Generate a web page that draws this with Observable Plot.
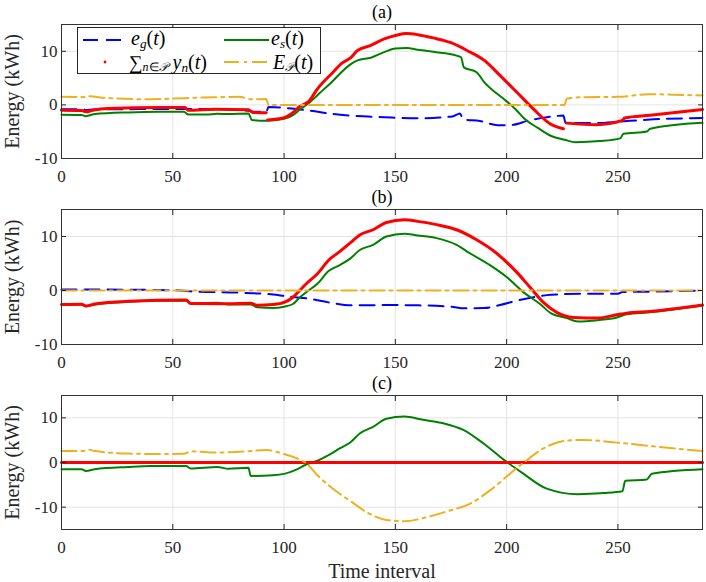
<!DOCTYPE html>
<html><head><meta charset="utf-8">
<script src="https://cdn.jsdelivr.net/npm/d3@7"></script>
<script src="https://cdn.jsdelivr.net/npm/@observablehq/plot@0.6"></script>
<style>
body{margin:0;background:#fff;font-family:"Liberation Serif","Times New Roman",serif;}
#wrap{position:relative;width:706px;}
#wrap svg{display:block;}
.legend{position:absolute;left:77px;top:27px;width:242px;height:45px;border:1px solid #262626;background:#fff;font-size:20px;color:#000;}
.it{position:absolute;height:19px;line-height:19px;white-space:nowrap;}
.sb{font-size:66%;position:relative;top:0.2em;line-height:1;}
i{font-style:italic;}
</style>
</head><body>
<div id="wrap"></div>
<script>
// ---- data (time interval, energy kWh) ----
const xTicks = [0, 50, 100, 150, 200, 250];
const yTicks = [-10, 0, 10];

// panel (a)
const aEg = [[0,-0.8],[10,-0.85],[11,-1.0],[14,-0.85],[30,-0.8],[50,-0.75],[70,-0.8],[84,-1.1],[87,-1.3],[92,-1.3],[93,-0.4],[100,-0.55],[106,-0.8],[112,-1.1],[122,-1.7],[130,-2.0],[145,-2.3],[160,-2.5],[170,-2.35],[176,-2.1],[179,-1.6],[180.5,-2.7],[188,-3.0],[196,-3.8],[202,-3.75],[210,-2.9],[218,-2.3],[225.5,-2.0],[226.5,-3.4],[240,-3.4],[251,-3.1],[266,-2.7],[288,-2.45]];
const aEs = [[0,-1.85],[9,-1.9],[11,-2.1],[15,-1.7],[30,-1.4],[44,-1.3],[55,-1.3],[57,-1.8],[65,-1.8],[70,-1.65],[75,-1.7],[84,-1.6],[85.5,-2.8],[92,-2.95],[100,-2.6],[104,-1.9],[107,-0.9],[111,0.3],[116,2.2],[122,4.5],[126,6.2],[130,7.6],[133,8.3],[139,8.8],[145,9.85],[150,10.5],[155,10.6],[160,10.3],[167,9.9],[177.5,9.2],[179.5,8.9],[180.8,7.0],[186.5,6.1],[190,4.2],[195,2.3],[199,1.0],[204,-0.8],[208,-2.6],[214,-4.3],[220,-5.8],[226,-6.5],[231,-6.95],[242,-6.75],[251,-6.25],[252.5,-5.4],[263,-4.95],[264.5,-4.45],[288,-3.35]];
const aSum = [[0,-1.0],[9,-1.05],[11,-1.3],[14,-1.0],[21,-0.65],[44,-0.5],[55.5,-0.5],[57,-1.0],[69,-0.8],[84,-0.9],[86,-1.4],[92,-1.45],[92.3,null],[92.6,-2.8],[100,-2.4],[103.5,-1.6],[107,-0.3],[111,0.6],[115,3.0],[122,6.1],[126,7.8],[130,8.8],[133,10.15],[139,11.1],[145,12.3],[150.5,13.0],[155,13.3],[160,13.1],[167,12.5],[175,11.6],[182,10.2],[190,8.3],[197,5.5],[204.5,2.4],[212,-0.75],[219.5,-3.5],[225.5,-4.45],[226.2,null],[227,-3.4],[240.5,-3.7],[252,-2.9],[253,-2.45],[264.5,-1.95],[288,-0.85]];
const aEP = [[0,1.5],[10,1.45],[12,1.6],[20,1.3],[40,1.05],[55,1.25],[70,1.45],[80,1.5],[85,1.05],[92,1.1],[93,0],[226,0],[227,1.15],[235,1.45],[250,1.5],[264,2.0],[275,1.9],[288,1.75]];

// panel (b)
const bEg = [[0,0.2],[30,0.15],[50,0.05],[60,-0.2],[80,-0.4],[95,-0.75],[100,-1.0],[105,-1.25],[110,-1.45],[120,-2.2],[130,-2.75],[145,-2.7],[160,-2.75],[175,-3.0],[181,-3.3],[190,-3.25],[197,-2.7],[204.5,-1.9],[212,-1.25],[220,-0.8],[235,-0.6],[250,-0.6],[252,-0.3],[265,-0.2],[288,0]];
const bEs = [[0,-2.6],[9,-2.6],[11,-2.9],[15,-2.6],[30,-2.1],[40,-1.9],[56,-1.9],[58,-2.4],[70,-2.25],[75,-2.6],[85,-2.6],[88,-3.1],[95,-3.25],[100,-3.0],[104,-2.5],[107,-1.3],[110,-0.3],[115,1.25],[120,3.6],[125,4.7],[130,6.0],[134,7.5],[140,8.45],[146,10.0],[154,10.5],[160,10.2],[168.5,9.7],[177.5,8.45],[183.5,6.9],[192.5,4.7],[200,2.5],[207.5,-0.3],[215,-2.5],[220,-4.25],[227,-5.1],[232,-5.75],[241,-5.5],[249.5,-5.0],[254,-4.4],[264.5,-4.05],[288,-2.8]];
const bSum = [[0,-2.6],[9,-2.55],[11,-2.85],[15,-2.5],[30,-2.0],[56,-1.75],[58,-2.4],[75,-2.45],[85,-2.35],[88,-2.75],[95,-2.6],[100,-2.2],[104,-1.25],[107,0],[110,1.25],[115,3.1],[120,5.6],[125,7.2],[130,8.9],[134,10.3],[140,11.25],[146,12.6],[154,13.1],[160,12.8],[168.5,12.2],[177.5,11.25],[186.5,9.4],[195.5,6.9],[204.5,3.4],[210.5,0.6],[216.5,-2.2],[222.5,-4.05],[230,-5.0],[241,-5.1],[249.5,-4.5],[254,-4.2],[264.5,-3.9],[288,-2.7]];
const bEP = [[0,0],[288,0]];

// panel (c)
const cEg = [[0,0],[288,0]];
const cEs = [[0,-1.5],[9,-1.5],[11,-1.9],[15,-1.5],[30,-1.0],[40,-0.8],[56,-0.8],[58,-1.35],[70,-1.0],[75,-1.4],[84,-1.2],[85,-3.0],[95,-2.85],[100,-2.55],[105,-1.7],[110,-0.45],[115,0.4],[120,1.65],[125,3.15],[130,4.6],[134,6.5],[140,8.0],[146,9.8],[154,10.3],[162.5,9.55],[171.5,8.8],[180.5,7.3],[189.5,4.3],[198.5,0.7],[207.5,-2.5],[218,-5.85],[232,-7.1],[243.5,-6.85],[252,-6.45],[253.3,-4.1],[263,-3.8],[265.2,-2.5],[288,-1.5]];
const cSum = [[0,0],[288,0]];
const cEP = [[0,2.6],[10,2.6],[12,2.9],[15,2.55],[30,2.0],[45,1.9],[55,1.95],[58,2.5],[70,2.25],[85,2.55],[92,2.8],[100,1.9],[105,1.1],[110,-0.2],[115,-2.85],[120,-5.1],[125,-7.0],[130,-8.7],[137,-11.1],[146,-12.85],[154,-13.15],[164,-12.25],[174.5,-10.75],[183.5,-9.25],[192.5,-6.25],[201.5,-2.5],[209,0.5],[216.5,3.15],[227,4.9],[234.5,5.05],[249.5,4.45],[264.5,3.7],[288,2.55]];

// ---- styles ----
const C = {eg:"#0000ff", es:"#008000", sum:"#ff0000", ep:"#EDB120"};
const rows = a => a.map(([t, v]) => ({t, v}));

function panel({title, eg, es, sum, ep, yDomain, marginTop, marginBottom, height, xlabel}) {
  const fmt = d => String(d);
  const curve = "monotone-x";
  const marks = [
    Plot.gridX(xTicks, {stroke:"#e4e4e4", strokeOpacity:1}),
    Plot.gridY(yTicks, {stroke:"#e4e4e4", strokeOpacity:1}),
    Plot.line(rows(eg), {x:"t", y:"v", curve, stroke:C.eg, strokeWidth:2, strokeDasharray:"15,8"}),
    Plot.line(rows(es), {x:"t", y:"v", curve, stroke:C.es, strokeWidth:2}),
    Plot.line(rows(sum), {x:"t", y:"v", curve, stroke:C.sum, strokeWidth:3}),
    Plot.line(rows(ep), {x:"t", y:"v", curve, stroke:C.ep, strokeWidth:2, strokeDasharray:"15,5,3,5"}),
    Plot.axisX(xTicks, {anchor:"bottom", tickSize:-5, fill:"none", stroke:"#262626"}),
    Plot.axisX(xTicks, {anchor:"top", tickSize:-5, fill:"none", stroke:"#262626"}),
    Plot.axisY(yTicks, {anchor:"left", tickSize:-5, fill:"none", stroke:"#262626"}),
    Plot.axisY(yTicks, {anchor:"right", tickSize:-5, fill:"none", stroke:"#262626"}),
    Plot.axisX(xTicks, {anchor:"bottom", tickSize:0, tickPadding:11, tickFormat:fmt, label:null, fill:"#262626"}),
    Plot.axisY(yTicks, {anchor:"left", tickSize:0, tickPadding:4, tickFormat:fmt, label:null, fill:"#262626"}),
    Plot.frame({stroke:"#333", strokeWidth:1}),
    Plot.text([title], {frameAnchor:"top", dy:-12, lineAnchor:"middle", fontSize:18, fill:"#000"}),
    Plot.text(["Energy (kWh)"], {frameAnchor:"left", rotate:-90, dx:-49, lineAnchor:"middle", textAnchor:"middle", fontSize:20, fill:"#262626"})
  ];
  if (xlabel) marks.push(Plot.text([xlabel], {frameAnchor:"bottom", dy:42, lineAnchor:"middle", fontSize:20, fill:"#262626"}));
  return Plot.plot({
    width:706, height, marginLeft:61, marginRight:4, marginTop, marginBottom,
    style:{fontFamily:'"Liberation Serif","Times New Roman",serif', fontSize:"17px", background:"#fff", color:"#262626"},
    x:{domain:[0,288]},
    y:{domain:yDomain},
    marks
  });
}

const wrap = document.getElementById("wrap");
wrap.appendChild(panel({title:"(a)", eg:aEg, es:aEs, sum:aSum, ep:aEP, yDomain:[-10,15], marginTop:24, marginBottom:28, height:186}));
wrap.appendChild(panel({title:"(b)", eg:bEg, es:bEs, sum:bSum, ep:bEP, yDomain:[-10,15], marginTop:23, marginBottom:28, height:186}));
wrap.appendChild(panel({title:"(c)", eg:cEg, es:cEs, sum:cSum, ep:cEP, yDomain:[-15,15], marginTop:23, marginBottom:53, height:210, xlabel:"Time interval"}));

// legend (panel a)
const lg = document.createElement("div");
lg.className = "legend";
lg.innerHTML = `
<svg width="242" height="45" style="position:absolute;left:0;top:0">
  <line x1="5" x2="43" y1="12" y2="12" stroke="${C.eg}" stroke-width="2" stroke-dasharray="15,8"/>
  <line x1="146" x2="191" y1="12" y2="12" stroke="${C.es}" stroke-width="2"/>
  <circle cx="27" cy="34" r="1.4" fill="${C.sum}"/>
  <line x1="146" x2="191" y1="34" y2="34" stroke="${C.ep}" stroke-width="2" stroke-dasharray="15,5,3,5"/>
</svg>
<div class="it" style="left:53px;top:1px"><i>e</i><span class="sb"><i>g</i></span>(<i>t</i>)</div>
<div class="it" style="left:193px;top:1px"><i>e</i><span class="sb"><i>s</i></span>(<i>t</i>)</div>
<div class="it" style="left:51px;top:25px"><span style="font-size:19px;line-height:1">∑</span><span class="sb" style="font-size:60%"><i>n</i>∈<i>𝒫</i></span>&nbsp;<i>y</i><span class="sb"><i>n</i></span>(<i>t</i>)</div>
<div class="it" style="left:195px;top:25px"><i>E</i><span class="sb" style="font-size:60%"><i>𝒫</i></span>(<i>t</i>)</div>`;
wrap.appendChild(lg);
</script>
</body></html>
